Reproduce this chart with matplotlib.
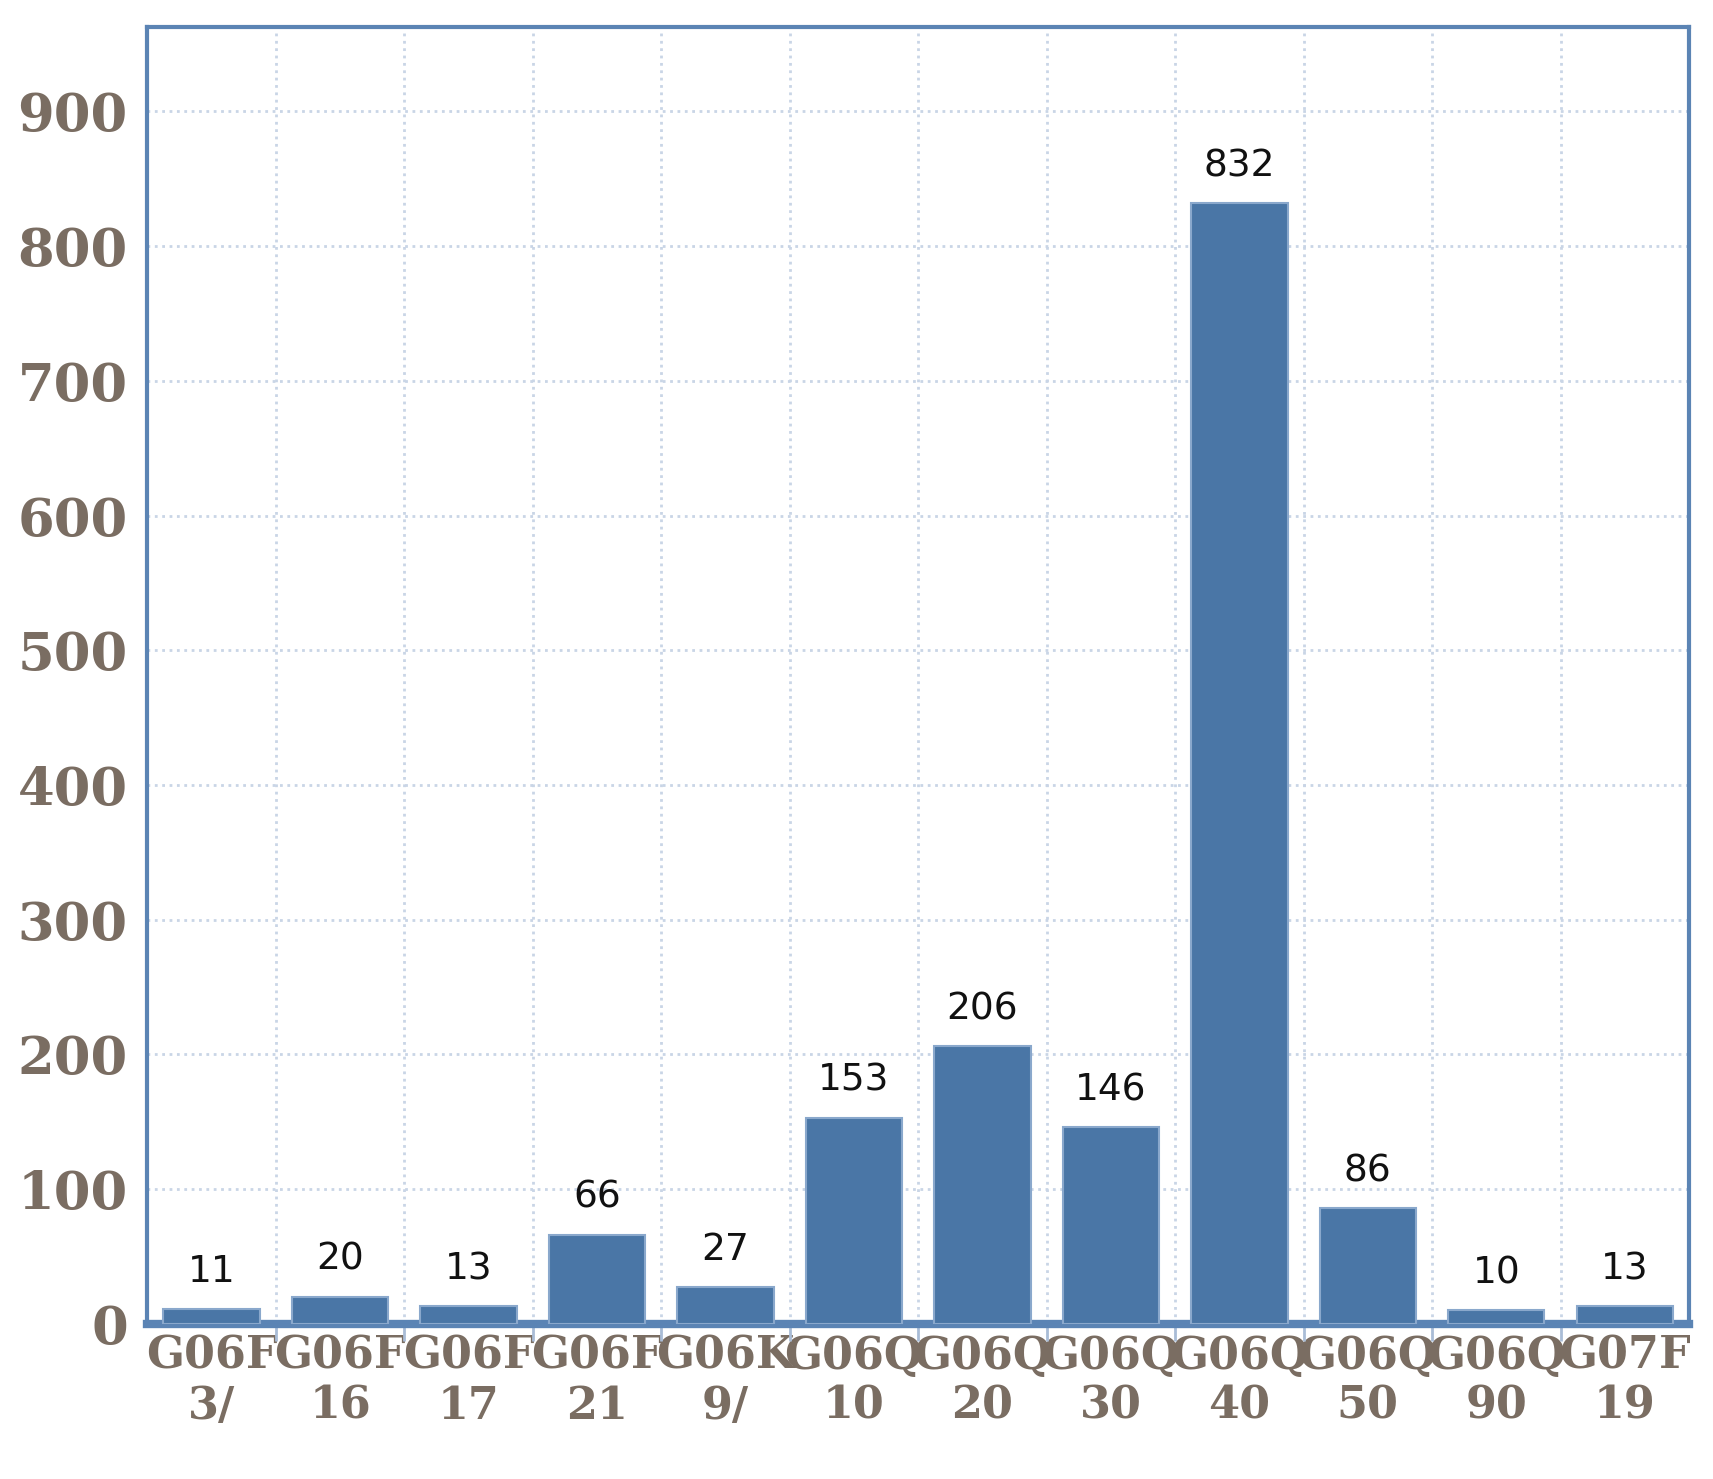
import matplotlib.pyplot as plt

categories = ["G06F\n3/", "G06F\n16", "G06F\n17", "G06F\n21", "G06K\n9/", "G06Q\n10",
              "G06Q\n20", "G06Q\n30", "G06Q\n40", "G06Q\n50", "G06Q\n90", "G07F\n19"]
counts = [11, 20, 13, 66, 27, 153, 206, 146, 832, 86, 10, 13]
yticks = [0, 100, 200, 300, 400, 500, 600, 700, 800, 900]

fig = plt.figure(figsize=(17.13, 14.79), dpi=100)
ax = fig.add_axes([0.086, 0.105, 0.9, 0.877])

x = list(range(len(categories)))
bars = ax.bar(x, counts, width=0.75, color="#4a76a6", edgecolor="#8aa8cc", linewidth=1.5, zorder=3)
for xi, v in zip(x, counts):
    ax.text(xi, v + 14, str(v), ha="center", va="bottom", fontsize=27, color="#111111",
            family="DejaVu Sans", zorder=4)

ax.set_xlim(-0.5, len(categories) - 0.5)
ax.set_ylim(0, 963)
ax.set_yticks(yticks)
ax.set_xticks(x)
ax.set_xticklabels(categories)
ax.set_xticks([i + 0.5 for i in x[:-1]], minor=True)

for lab in ax.get_xticklabels() + ax.get_yticklabels():
    lab.set_family("DejaVu Serif")
    lab.set_fontweight("bold")
    lab.set_color("#7a6d62")
ax.tick_params(axis="x", which="major", length=0, labelsize=32, pad=8)
ax.tick_params(axis="x", which="minor", length=12, color="#a9bcd6", width=2)
ax.tick_params(axis="y", length=0, labelsize=38, pad=14)

ax.grid(axis="y", which="major", color="#c9d5e6", linestyle=":", linewidth=2, zorder=0)
ax.grid(axis="x", which="minor", color="#c9d5e6", linestyle=":", linewidth=2, zorder=0)
ax.grid(axis="x", which="major", visible=False)

for s in ax.spines.values():
    s.set_color("#5b84b4")
    s.set_linewidth(3)
ax.spines["bottom"].set_linewidth(6)

fig.savefig("out.png")
